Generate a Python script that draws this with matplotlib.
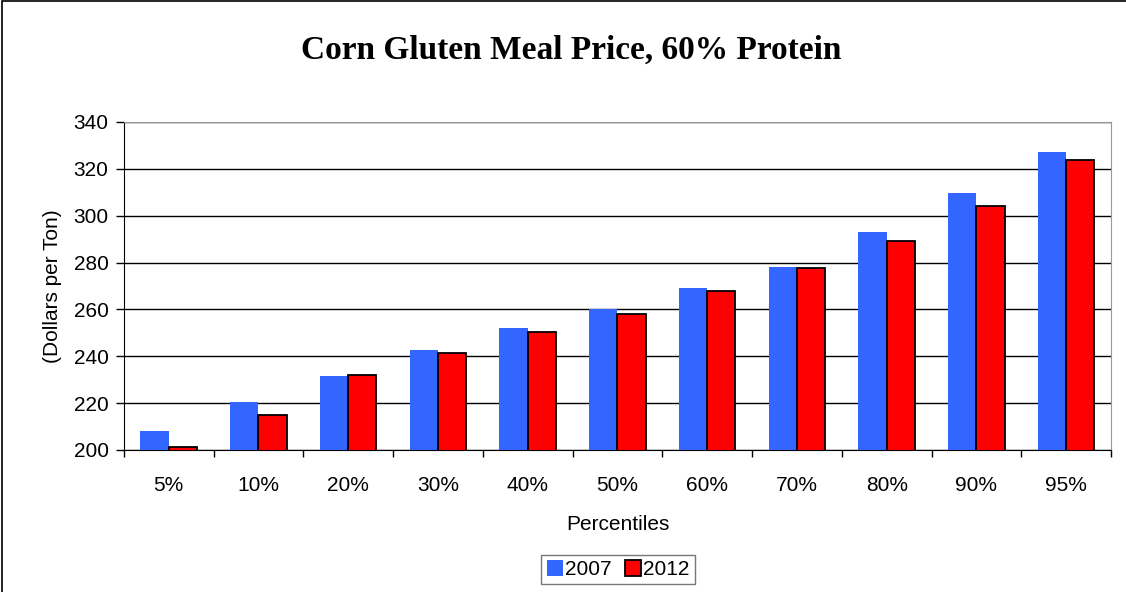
import numpy as np
import matplotlib.pyplot as plt
from matplotlib.patches import Rectangle

# Datos
percentiles = ['5%', '10%', '20%', '30%', '40%', '50%', '60%', '70%', '80%', '90%', '95%']
precio_2007 = [208.2, 220.5, 231.4, 242.8, 251.9, 260.0, 269.1, 278.1, 292.9, 309.7, 327.3]
precio_2012 = [201.2, 214.8, 231.9, 241.3, 250.4, 258.2, 267.7, 277.7, 289.1, 304.3, 323.9]
anios = ['2007', '2012']

plt.rcParams['font.family'] = ['Liberation Sans', 'DejaVu Sans']

fig = plt.figure(figsize=(11.26, 5.92), dpi=100)
ax = fig.add_axes([0.110, 0.2399, 0.8767, 0.5541])

x = np.arange(len(percentiles))
ancho = 0.315
ax.bar(x - ancho / 2, precio_2007, ancho, color='#3366FF', edgecolor='none',
       label=anios[0], zorder=3)
ax.bar(x + ancho / 2, precio_2012, ancho, color='#FF0000', edgecolor='black', linewidth=1.3,
       label=anios[1], zorder=3)

ax.set_xlim(-0.5, len(percentiles) - 0.5)
ax.set_ylim(200, 340)
ax.set_yticks(np.arange(200, 341, 20))
ax.set_xticks(x)
ax.set_xticklabels(percentiles, fontsize=15)
ax.set_xticks(np.arange(-0.5, len(percentiles)), minor=True)
ax.tick_params(axis='x', which='major', length=0, pad=19)
ax.tick_params(axis='x', which='minor', length=5, direction='out', width=1)
ax.tick_params(axis='y', labelsize=15, length=6, direction='out', width=1, pad=5)
ax.grid(axis='y', color='black', linewidth=1, zorder=0)
ax.set_axisbelow(True)

for lado in ['top', 'right']:
    ax.spines[lado].set_color('#999999')
for lado in ['left', 'bottom']:
    ax.spines[lado].set_color('black')

ax.set_xlabel('Percentiles', fontsize=15, labelpad=14)
ax.set_ylabel('(Dollars per Ton)', fontsize=15, labelpad=8)

fig.text(0.507, 0.915, 'Corn Gluten Meal Price, 60% Protein', ha='center', va='center',
         fontsize=24, fontweight='bold', family='Liberation Serif')

fig.legend(loc='center', bbox_to_anchor=(0.549, 0.038), ncol=2, fontsize=15,
           frameon=True, fancybox=False, edgecolor='#555555', handlelength=0.8,
           handleheight=0.8, handletextpad=0.1, columnspacing=0.6, borderpad=0.25,
           borderaxespad=0)

# Marco del grafico
fig.patches.append(Rectangle((0.0015, -0.01), 1.5, 1.0075, transform=fig.transFigure,
                             fill=False, edgecolor='black', linewidth=1.2))

fig.savefig('out.png', dpi=100)
